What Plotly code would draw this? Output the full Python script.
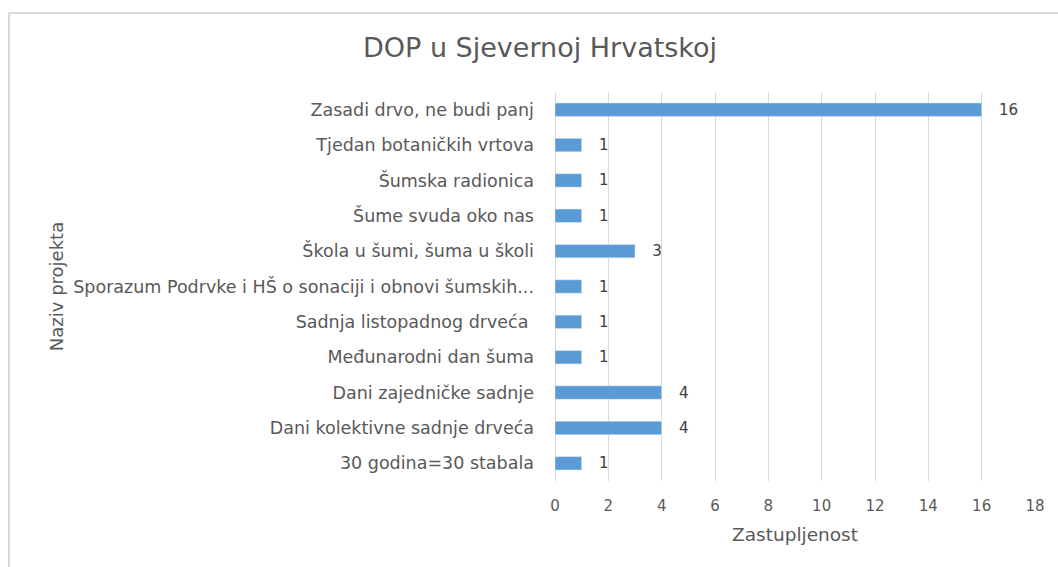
import plotly.graph_objects as go

categories = [
    "30 godina=30 stabala",
    "Dani kolektivne sadnje drveća",
    "Dani zajedničke sadnje",
    "Međunarodni dan šuma",
    "Sadnja listopadnog drveća ",
    "Sporazum Podrvke i HŠ o sonaciji i obnovi šumskih...",
    "Škola u šumi, šuma u školi",
    "Šume svuda oko nas",
    "Šumska radionica",
    "Tjedan botaničkih vrtova",
    "Zasadi drvo, ne budi panj",
]
values = [1, 4, 4, 1, 1, 1, 3, 1, 1, 1, 16]
x_ticks = [0, 2, 4, 6, 8, 10, 12, 14, 16, 18]

FONT = "DejaVu Sans"
GREY = "#595959"

fig = go.Figure(
    go.Bar(
        y=categories,
        x=values,
        orientation="h",
        marker=dict(color="#5B9BD5"),
        width=0.38,
        texttemplate="\u00a0\u00a0\u00a0%{x}",
        textposition="outside",
        constraintext="none",
        textfont=dict(family=FONT, size=15, color="#404040"),
        cliponaxis=False,
    )
)

fig.update_layout(
    width=1058,
    height=567,
    margin=dict(l=555, r=23, t=92, b=86),
    paper_bgcolor="white",
    plot_bgcolor="white",
    showlegend=False,
    title=dict(
        text="DOP u Sjevernoj Hrvatskoj",
        x=540 / 1058,
        xanchor="center",
        y=1 - 48 / 567,
        yanchor="middle",
        font=dict(family=FONT, size=27, color=GREY),
    ),
    xaxis=dict(
        range=[0, 18],
        tickvals=x_ticks,
        showgrid=True,
        gridcolor="#D9D9D9",
        gridwidth=1,
        zeroline=True,
        zerolinecolor="#D9D9D9",
        zerolinewidth=1,
        tickfont=dict(family=FONT, size=15, color=GREY),
        title=dict(text="Zastupljenost", font=dict(family=FONT, size=18.5, color=GREY), standoff=14),
        ticks="",
        ticklabelstandoff=14,
    ),
    yaxis=dict(
        categoryorder="array",
        categoryarray=categories,
        showgrid=False,
        ticks="",
        tickfont=dict(family=FONT, size=17.5, color=GREY),
        ticklabelstandoff=20,
        title=dict(text="Naziv projekta", font=dict(family=FONT, size=18, color=GREY), standoff=4),
        range=[-0.5, 10.5],
    ),
    shapes=[
        dict(
            type="rect",
            xref="paper",
            yref="paper",
            x0=(9 - 555) / 480,
            x1=(1070 - 555) / 480,
            y0=(481 - 580) / 389,
            y1=(481 - 13) / 389,
            line=dict(color="#D9D9D9", width=2),
            fillcolor="rgba(0,0,0,0)",
            layer="below",
        )
    ],
)

fig.write_html(
    "out.html",
    config={"displayModeBar": False},
    post_script="document.body.style.margin='0';",
)
